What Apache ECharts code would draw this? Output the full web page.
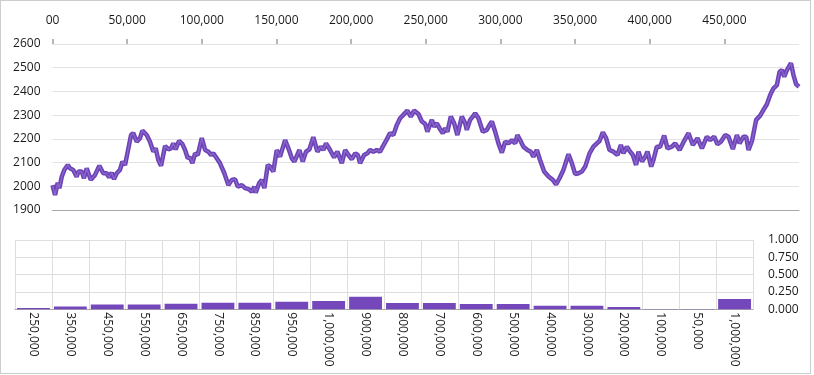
<!DOCTYPE html>
<html>
<head>
<meta charset="utf-8">
<script src="https://cdn.jsdelivr.net/npm/echarts@6/dist/echarts.min.js"></script>
<style>
  html, body { margin: 0; padding: 0; background: #fff; }
  #chart { position: absolute; left: 0; top: 0; width: 814px; height: 375px; }
  #frame { position: absolute; left: 0; top: 0; width: 809px; height: 372px; border: 1px solid #cdcdcd; pointer-events: none; }
</style>
</head>
<body>
<div id="chart"></div>
<div id="frame"></div>
<script>
// 折线：x 值
const lineX = [
  0, 1700, 3500, 4600, 6200, 7900, 10200, 11700, 13900, 16200, 17300, 19600, 21100, 22900, 25600, 28500,
  31400, 34000, 36300, 37900, 39700, 41200, 43000, 45200, 46800, 48600, 50400, 52600, 54100, 56400, 58600,
  60200, 63100, 65300, 67500, 69100, 70900, 72700, 75400, 77600, 79400, 80900, 82500, 84800, 87000, 88800,
  90600, 92100, 93700, 95500, 97300, 100000, 102200, 104400, 106200, 107700, 110000, 112200, 115100, 117800,
  120100, 122300, 124100, 126800, 129000, 131700, 133500, 135200, 136100, 138400, 140200, 141900, 144200,
  145700, 147900, 150200, 152400, 155800, 158000, 160300, 162000, 165400, 167600, 169800, 172100, 174700,
  177400, 179700, 181400, 183200, 185900, 188600, 190800, 193800, 196000, 198200, 200500, 202700, 204500,
  206000, 208700, 210900, 212700, 214900, 217200, 219400, 221200, 223900, 226100, 228300, 230600, 232800,
  235000, 237700, 240000, 242200, 245100, 247400, 249600, 251100, 252500, 254100, 255600, 257400, 259200,
  261400, 263000, 264500, 266800, 269000, 271200, 274200, 276400, 277500, 279700, 281500, 283100, 285300,
  288200, 290900, 292700, 294300, 296500, 298700, 301000, 303200, 305400, 307700, 309900, 311400, 313200,
  315400, 318100, 320400, 322100, 324400, 326600, 329300, 332200, 335100, 337300, 339600, 342200, 345600,
  347900, 350100, 352300, 354600, 356800, 359700, 362300, 364600, 366400, 368600, 370800, 373100, 375700,
  378400, 380700, 382400, 384700, 386900, 388700, 390900, 392500, 394800, 397000, 398500, 401000, 402500,
  404800, 407000, 409700, 411900, 414900, 417100, 420000, 422600, 426000, 428900, 432000, 435000, 438300,
  440500, 443200, 445400, 447700, 450600, 452800, 455700, 458400, 460200, 462800, 464600, 466200, 468500,
  471300, 474000, 476200, 478500, 480700, 482900, 485200, 487000, 488600, 490100, 491900, 494600, 496300,
  498100, 500000
];
// 折线：y 值
const lineY = [
  2005, 1963, 2015, 1992, 2040, 2069, 2090, 2076, 2069, 2040, 2062, 2062, 2034, 2076, 2027, 2048,
  2087, 2055, 2055, 2038, 2057, 2030, 2055, 2069, 2104, 2090, 2146, 2216, 2224, 2188, 2203,
  2235, 2216, 2188, 2146, 2160, 2111, 2086, 2170, 2156, 2160, 2181, 2156, 2192, 2178, 2153,
  2118, 2122, 2097, 2139, 2132, 2203, 2153, 2146, 2132, 2139, 2118, 2097, 2055, 2005,
  2027, 2030, 1998, 2005, 1992, 1987, 1977, 1998, 1973, 2013, 2027, 1992, 2090,
  2083, 2062, 2153, 2125, 2195, 2160, 2118, 2104, 2153, 2104, 2146, 2156, 2207,
  2146, 2167, 2153, 2181, 2153, 2122, 2146, 2097, 2153, 2132, 2114, 2139, 2132,
  2097, 2132, 2139, 2153, 2146, 2153, 2146, 2167, 2198, 2224, 2216, 2258, 2287,
  2301, 2319, 2294, 2319, 2305, 2273, 2263, 2230, 2254, 2280, 2251, 2266, 2245,
  2224, 2245, 2230, 2294, 2266, 2216, 2294, 2266, 2238, 2280, 2294, 2308, 2287,
  2230, 2238, 2258, 2273, 2230, 2181, 2142, 2188, 2181, 2195, 2181, 2216, 2195,
  2167, 2153, 2146, 2125, 2153, 2110, 2062, 2041, 2027, 2008, 2034, 2069, 2135,
  2097, 2051, 2055, 2062, 2083, 2139, 2167, 2181, 2191, 2228, 2203, 2153, 2146,
  2132, 2174, 2139, 2167, 2146, 2132, 2090, 2146, 2104, 2125, 2146, 2083, 2111,
  2167, 2167, 2214, 2160, 2167, 2181, 2153, 2186, 2224, 2174, 2203, 2160, 2209,
  2195, 2209, 2177, 2188, 2216, 2209, 2157, 2216, 2181, 2209, 2209, 2153, 2191,
  2280, 2298, 2322, 2346, 2385, 2413, 2427, 2483, 2490, 2462, 2490, 2519, 2469,
  2430, 2420
];

// 柱状图
const barLabels = [
  '250,000', '350,000', '450,000', '550,000', '650,000', '750,000', '850,000', '950,000', '1,000,000', '900,000',
  '800,000', '700,000', '600,000', '500,000', '400,000', '300,000', '200,000', '100,000', '50,000', '1,000,000'
];
const barValues = [
  0.02, 0.04, 0.07, 0.07, 0.08, 0.095, 0.095, 0.11, 0.12, 0.18,
  0.09, 0.09, 0.077, 0.077, 0.053, 0.053, 0.033, 0.005, 0.005, 0.15
];

const lineData = lineX.map((x, i) => [x, lineY[i]])
const fontFamily = "'Open Sans', 'Noto Sans', sans-serif"

const chart = echarts.init(document.getElementById('chart'))

const option = {
  animation: false,
  textStyle: { fontFamily: fontFamily },
  grid: [
    { left: 52.5, top: 44, width: 746.5, height: 166 },
    { left: 15, top: 240, width: 738, height: 69.3 }
  ],
  xAxis: [
    {
      type: 'value',
      gridIndex: 0,
      position: 'top',
      min: 0,
      max: 500000,
      interval: 50000,
      axisLine: { show: false },
      axisTick: { show: true, length: 5, lineStyle: { color: '#a0a0a0', width: 1.5 } },
      splitLine: { show: false },
      axisLabel: {
        margin: 17,
        color: '#1a1a1a',
        fontSize: 12,
        fontFamily: fontFamily,
        showMaxLabel: false,
        formatter: (v) => v === 0 ? '00' : v.toLocaleString('en-US')
      }
    },
    {
      type: 'value',
      gridIndex: 0,
      position: 'bottom',
      min: 0,
      max: 500000,
      axisLine: { show: true, lineStyle: { color: '#a8a8a8' } },
      axisTick: { show: false },
      axisLabel: { show: false },
      splitLine: { show: false }
    },
    {
      type: 'category',
      gridIndex: 1,
      data: barLabels,
      axisLine: { show: true, lineStyle: { color: '#a8a8a8' } },
      axisTick: { show: false },
      splitLine: { show: true, lineStyle: { color: '#dedede' } },
      axisLabel: {
        interval: 0,
        rotate: -90,
        margin: 3,
        color: '#1a1a1a',
        fontSize: 12,
        fontFamily: fontFamily
      }
    }
  ],
  yAxis: [
    {
      type: 'value',
      gridIndex: 0,
      min: 1900,
      max: 2600,
      interval: 100,
      axisLine: { show: false },
      axisTick: { show: false },
      splitLine: { lineStyle: { color: '#e3e3e3' } },
      axisLabel: {
        margin: 12,
        color: '#1a1a1a',
        fontSize: 12,
        fontFamily: fontFamily,
        formatter: (v) => String(v)
      }
    },
    {
      type: 'value',
      gridIndex: 1,
      position: 'right',
      min: 0,
      max: 1,
      interval: 0.25,
      axisLine: { show: false },
      axisTick: { show: false },
      splitLine: { lineStyle: { color: '#dedede' } },
      axisLabel: {
        margin: 15,
        color: '#1a1a1a',
        fontSize: 12,
        fontFamily: fontFamily,
        formatter: (v) => v.toFixed(3)
      }
    }
  ],
  series: [
    {
      type: 'line',
      xAxisIndex: 0,
      yAxisIndex: 0,
      data: lineData,
      showSymbol: false,
      lineStyle: { color: '#6c42b6', width: 4.5 }
    },
    {
      type: 'line',
      xAxisIndex: 0,
      yAxisIndex: 0,
      data: lineData,
      showSymbol: false,
      lineStyle: { color: '#8a68cb', width: 1.3 }
    },
    {
      type: 'bar',
      xAxisIndex: 2,
      yAxisIndex: 1,
      data: barValues,
      barCategoryGap: '11%',
      itemStyle: { color: '#7447bb' }
    }
  ]
}

chart.setOption(option)
</script>
</body>
</html>
